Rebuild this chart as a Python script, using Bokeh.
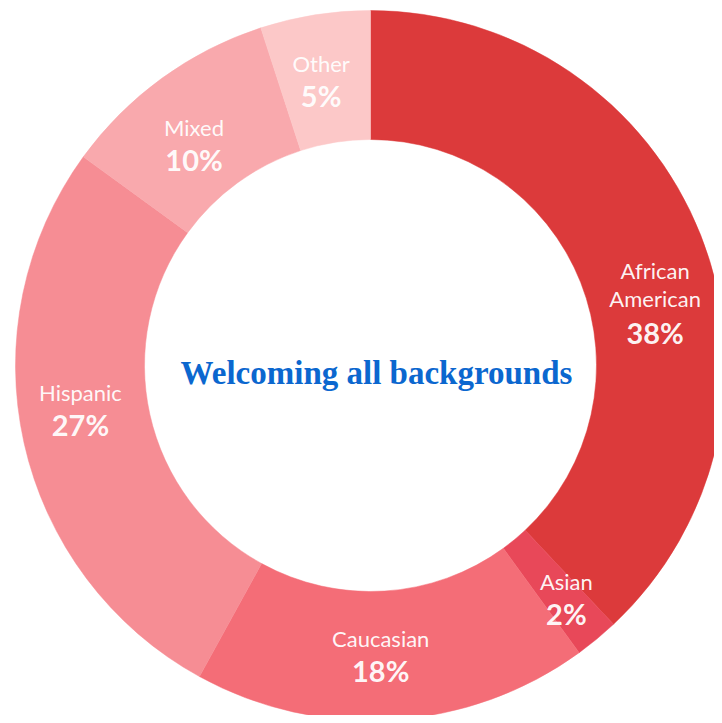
import math
from bokeh.plotting import figure
from bokeh.models import ColumnDataSource, Range1d
from bokeh.core.properties import value
from bokeh.embed import file_html
from bokeh.resources import INLINE

categories = ["African\nAmerican", "Asian", "Caucasian", "Hispanic", "Mixed", "Other"]
shares = [38, 2, 18, 27, 10, 5]
colors = ["#DC3A3B", "#E84859", "#F46D77", "#F68D94", "#F9A9AD", "#FCC8C8"]
center_title = "Welcoming all backgrounds"

# label placement nudges in screen pixels (dx right, dy down) - styling only
label_nudge = [(15, 42), (11, 9), (-8, 0), (-7, -20), (-6, 13), (-4, 0)]

W, H = 714, 715
cx_px, cy_px = 370, 365  # donut centre in figure pixels
R_OUT, R_IN, R_LABEL = 355, 226, 290

p = figure(width=W, height=H, output_backend="svg", toolbar_location=None,
           x_range=Range1d(-cx_px, W - cx_px), y_range=Range1d(-(H - cy_px), cy_px),
           min_border=0)
p.axis.visible = False
p.grid.visible = False
p.outline_line_color = None
p.background_fill_color = "white"
p.border_fill_color = "white"

total = sum(shares)
starts, ends, mids = [], [], []
cum = 0
for s in shares:
    a0 = math.pi / 2 - 2 * math.pi * cum / total
    cum += s
    a1 = math.pi / 2 - 2 * math.pi * cum / total
    starts.append(a0)
    ends.append(a1)
    mids.append((a0 + a1) / 2)

src = ColumnDataSource(dict(x=[0] * len(shares), y=[0] * len(shares),
                            start=starts, end=ends, color=colors))
p.annular_wedge(x="x", y="y", inner_radius=R_IN, outer_radius=R_OUT,
                start_angle="start", end_angle="end", direction="clock",
                fill_color="color", line_color="color", line_width=0.5, source=src)

# labels
nx, ny, nt, noff = [], [], [], []
px, py, pt, poff = [], [], [], []
for cat, s, m, (ddx, ddy) in zip(categories, shares, mids, label_nudge):
    lx = R_LABEL * math.cos(m) + ddx
    ly = R_LABEL * math.sin(m) - ddy
    lines = cat.split("\n")
    n = len(lines)
    first = -16 - 14 * (n - 1)
    for i, ln in enumerate(lines):
        nx.append(lx); ny.append(ly); nt.append(ln)
        noff.append(first + 28 * i)
    px.append(lx); py.append(ly); pt.append(f"{s}%")
    poff.append(first + 28 * (n - 1) + 32 + 2 * (n - 1))

p.text(x="x", y="y", text="t", y_offset="o",
       source=ColumnDataSource(dict(x=nx, y=ny, t=nt, o=noff)),
       text_font=value("Lato"), text_font_size="22px", text_color="white",
       text_alpha=0.95, text_align="center", text_baseline="middle")
p.text(x="x", y="y", text="t", y_offset="o",
       source=ColumnDataSource(dict(x=px, y=py, t=pt, o=poff)),
       text_font=value("Lato"), text_font_size="29px", text_font_style="bold",
       text_color="white", text_alpha=0.95, text_align="center", text_baseline="middle")

p.text(x=[0], y=[0], text=[center_title], x_offset=6, y_offset=7,
       text_font=value("Liberation Serif"), text_font_size="33px",
       text_font_style="bold", text_color="#0B67CF",
       text_align="center", text_baseline="middle")

open("out.html", "w").write(file_html(p, INLINE))
